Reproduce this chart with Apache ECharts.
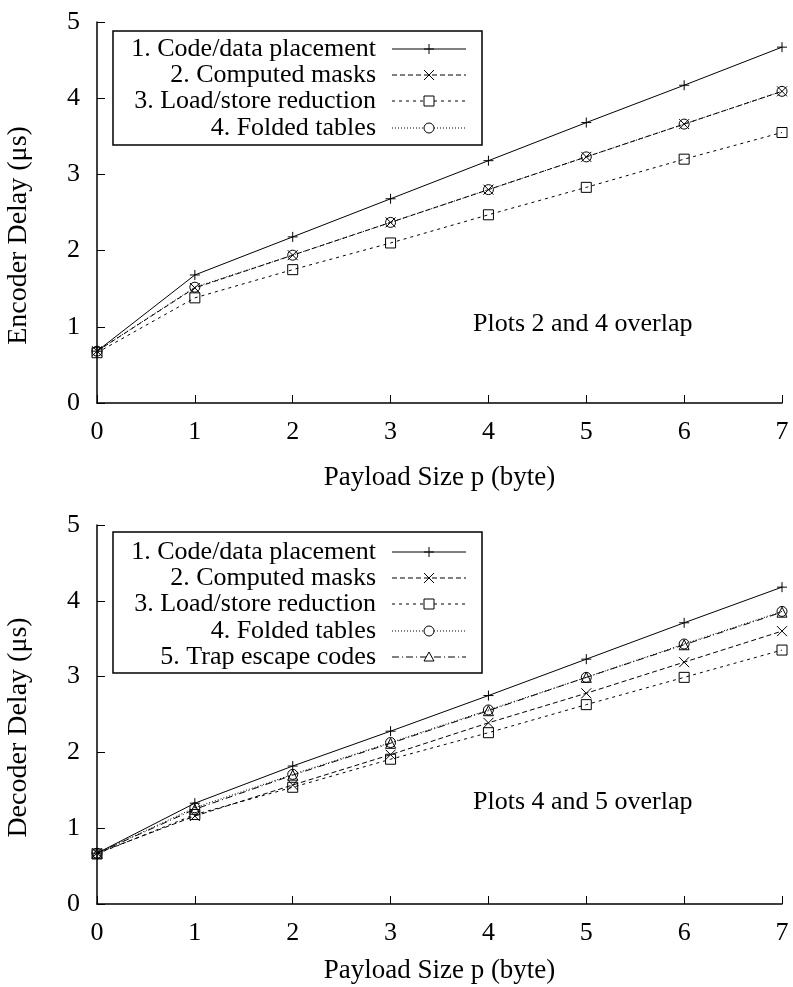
<!DOCTYPE html>
<html>
<head>
<meta charset="utf-8">
<script src="https://cdn.jsdelivr.net/npm/echarts@6/dist/echarts.min.js"></script>
<style>
html,body{margin:0;padding:0;background:#fff;}
#chart{width:793px;height:987px;}
</style>
</head>
<body>
<div id="chart"></div>
<script>
// ---- data ----
const payload = ['0', '1', '2', '3', '4', '5', '6', '7'];
const yTicks = [0, 1, 2, 3, 4, 5];

const encNames = ['1. Code/data placement', '2. Computed masks', '3. Load/store reduction', '4. Folded tables'];
const enc1 = [0.68, 1.68, 2.18, 2.68, 3.18, 3.68, 4.17, 4.67];
const enc2 = [0.68, 1.51, 1.94, 2.37, 2.80, 3.23, 3.66, 4.09];
const enc3 = [0.66, 1.38, 1.75, 2.10, 2.47, 2.83, 3.20, 3.55];
const enc4 = [0.68, 1.52, 1.94, 2.37, 2.80, 3.23, 3.66, 4.09];

const decNames = ['1. Code/data placement', '2. Computed masks', '3. Load/store reduction', '4. Folded tables', '5. Trap escape codes'];
const dec1 = [0.67, 1.33, 1.82, 2.28, 2.75, 3.23, 3.71, 4.18];
const dec2 = [0.67, 1.16, 1.57, 1.97, 2.39, 2.78, 3.19, 3.60];
const dec3 = [0.66, 1.18, 1.54, 1.91, 2.26, 2.63, 2.99, 3.35];
const dec4 = [0.67, 1.27, 1.71, 2.13, 2.56, 2.99, 3.43, 3.86];
const dec5 = [0.67, 1.25, 1.70, 2.12, 2.55, 2.99, 3.42, 3.85];

const encNote = 'Plots 2 and 4 overlap';
const decNote = 'Plots 4 and 5 overlap';
const xTitle = 'Payload Size p (byte)';
const encYTitle = 'Encoder Delay (\u03bcs)';
const decYTitle = 'Decoder Delay (\u03bcs)';

// ---- styles ----
const FONT = 'Liberation Serif';
const FS = 26;
const styles = [
  {symbol: 'path://M0,5L10,5M5,0L5,10', dash: 'solid', kind: 'plus'},
  {symbol: 'path://M0,0L10,10M0,10L10,0', dash: [5, 3], kind: 'cross'},
  {symbol: 'rect', dash: [3, 4], kind: 'rect'},
  {symbol: 'circle', dash: [1, 2], kind: 'circle'},
  {symbol: 'triangle', dash: [7, 3, 1, 3], kind: 'triangle'}
];

function makeSeries(data, idx, axisIdx) {
  const s = styles[idx];
  return {
    type: 'line',
    xAxisIndex: axisIdx,
    yAxisIndex: axisIdx,
    data: data,
    symbol: s.symbol,
    symbolSize: 10,
    showSymbol: true,
    silent: true,
    animation: false,
    lineStyle: {color: '#000', width: 1, type: s.dash},
    itemStyle: {color: 'rgba(0,0,0,0)', borderColor: '#000', borderWidth: 1}
  };
}

function xAxisCfg(gi, gap) {
  return {
    type: 'category', gridIndex: gi, data: payload, boundaryGap: false,
    axisLine: {show: true, lineStyle: {color: '#000', width: 1.5}},
    axisTick: {show: true, inside: true, length: 8, alignWithLabel: true, lineStyle: {color: '#000'}},
    axisLabel: {color: '#000', fontFamily: FONT, fontSize: FS, margin: 16},
    splitLine: {show: false},
    name: xTitle, nameLocation: 'middle', nameGap: gap,
    nameTextStyle: {color: '#000', fontFamily: FONT, fontSize: 27}
  };
}
function yAxisCfg(gi, title, shift) {
  return {
    type: 'value', gridIndex: gi, min: yTicks[0], max: yTicks[yTicks.length - 1], interval: 1,
    axisLine: {show: true, lineStyle: {color: '#000', width: 1.5}},
    axisTick: {show: true, inside: true, length: 8, lineStyle: {color: '#000'}},
    axisLabel: {color: '#000', fontFamily: FONT, fontSize: FS, margin: 17},
    splitLine: {show: false},
    name: title, nameLocation: 'middle', nameGap: 64,
    nameTextStyle: {color: '#000', fontFamily: FONT, fontSize: 28, padding: [0, shift * 2, 0, 0]}
  };
}

// ---- legend drawn as graphics ----
function legendGraphics(names, boxTop, boxBottom, rowYs) {
  const g = [];
  g.push({type: 'rect', shape: {x: 113, y: boxTop, width: 369, height: boxBottom - boxTop},
    style: {fill: '#fff', stroke: '#000', lineWidth: 1.5}, z: 100});
  names.forEach((n, i) => {
    const y = rowYs[i];
    const s = styles[i];
    g.push({type: 'text', x: 376, y: y, z: 101,
      style: {text: n, fill: '#000', font: FS + 'px "' + FONT + '"', align: 'right', verticalAlign: 'middle'}});
    g.push({type: 'line', shape: {x1: 392, y1: y, x2: 466, y2: y}, z: 101,
      style: {stroke: '#000', lineWidth: 1, lineDash: s.dash === 'solid' ? null : s.dash}});
    const cx = 429, r = 5;
    let shape;
    if (s.kind === 'plus') {
      shape = {type: 'polyline', shape: {points: [[cx - r, y], [cx + r, y]]}, style: {stroke: '#000', lineWidth: 1}};
      g.push({type: 'line', z: 102, shape: {x1: cx, y1: y - r, x2: cx, y2: y + r}, style: {stroke: '#000', lineWidth: 1}});
    } else if (s.kind === 'cross') {
      shape = {type: 'line', shape: {x1: cx - r, y1: y - r, x2: cx + r, y2: y + r}, style: {stroke: '#000', lineWidth: 1}};
      g.push({type: 'line', z: 102, shape: {x1: cx - r, y1: y + r, x2: cx + r, y2: y - r}, style: {stroke: '#000', lineWidth: 1}});
    } else if (s.kind === 'rect') {
      shape = {type: 'rect', shape: {x: cx - r, y: y - r, width: 2 * r, height: 2 * r}, style: {fill: '#fff', stroke: '#000', lineWidth: 1}};
    } else if (s.kind === 'circle') {
      shape = {type: 'circle', shape: {cx: cx, cy: y, r: r}, style: {fill: '#fff', stroke: '#000', lineWidth: 1}};
    } else {
      shape = {type: 'polygon', shape: {points: [[cx, y - r], [cx + r, y + r * 0.8], [cx - r, y + r * 0.8]]}, style: {fill: '#fff', stroke: '#000', lineWidth: 1}};
    }
    shape.z = 102;
    g.push(shape);
  });
  return g;
}

const graphics = []
  .concat(legendGraphics(encNames, 31, 145, [49, 75, 101, 128]))
  .concat(legendGraphics(decNames, 532, 673, [552, 578, 604, 631, 657]))
  .concat([
    {type: 'text', x: 473, y: 324, style: {text: encNote, fill: '#000', font: FS + 'px "' + FONT + '"', align: 'left', verticalAlign: 'middle'}},
    {type: 'text', x: 473, y: 802, style: {text: decNote, fill: '#000', font: FS + 'px "' + FONT + '"', align: 'left', verticalAlign: 'middle'}}
  ]);

const chart = echarts.init(document.getElementById('chart'), null, {renderer: 'canvas'});
chart.setOption({
  animation: false,
  backgroundColor: '#fff',
  grid: [
    {left: 97, right: 11, top: 22, height: 381, containLabel: false, outerBoundsMode: 'none'},
    {left: 97, right: 11, top: 525, height: 379, containLabel: false, outerBoundsMode: 'none'}
  ],
  xAxis: [xAxisCfg(0, 61), xAxisCfg(1, 53)],
  yAxis: [yAxisCfg(0, encYTitle, 23), yAxisCfg(1, decYTitle, 13)],
  series: [
    makeSeries(enc1, 0, 0), makeSeries(enc2, 1, 0), makeSeries(enc3, 2, 0), makeSeries(enc4, 3, 0),
    makeSeries(dec1, 0, 1), makeSeries(dec2, 1, 1), makeSeries(dec3, 2, 1), makeSeries(dec4, 3, 1), makeSeries(dec5, 4, 1)
  ],
  graphic: graphics
});
</script>
</body>
</html>
